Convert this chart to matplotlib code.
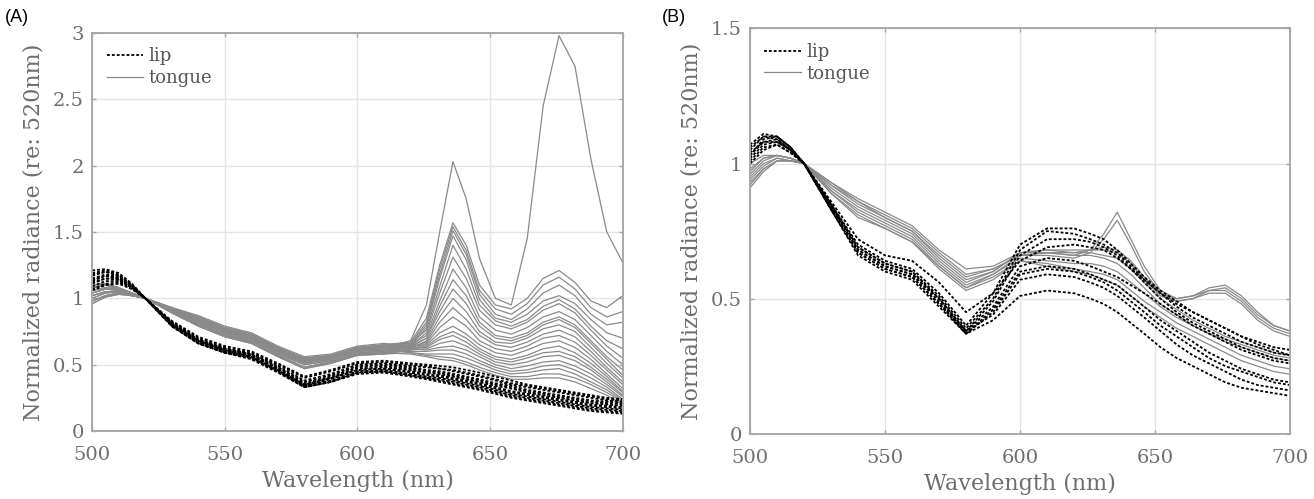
import matplotlib
matplotlib.use("Agg")
import matplotlib.pyplot as plt

# wavelength grid (nm) shared by all spectra
wl = [500, 505, 510, 515, 520, 530, 540, 550, 560, 570, 580, 590, 600, 610, 620,
      626, 631, 636, 641, 646, 652, 658, 664, 670, 676, 682, 688, 694, 700]

# ---- panel A: lip spectra (normalized at 520 nm)
lip_a = [
    [1.21, 1.22, 1.19, 1.11, 1.00, 0.83, 0.71, 0.64, 0.60, 0.51, 0.41, 0.46, 0.52, 0.53, 0.51, 0.50, 0.49, 0.48, 0.46, 0.44, 0.41, 0.38, 0.35, 0.33, 0.31, 0.29, 0.27, 0.25, 0.24],
    [1.19, 1.21, 1.18, 1.10, 1.00, 0.82, 0.70, 0.63, 0.59, 0.50, 0.40, 0.45, 0.51, 0.52, 0.50, 0.49, 0.47, 0.46, 0.44, 0.42, 0.39, 0.36, 0.34, 0.32, 0.30, 0.28, 0.26, 0.24, 0.23],
    [1.17, 1.20, 1.17, 1.10, 1.00, 0.82, 0.69, 0.62, 0.58, 0.49, 0.38, 0.43, 0.50, 0.51, 0.49, 0.48, 0.47, 0.45, 0.43, 0.41, 0.38, 0.35, 0.33, 0.31, 0.29, 0.27, 0.25, 0.23, 0.22],
    [1.15, 1.18, 1.16, 1.09, 1.00, 0.81, 0.69, 0.62, 0.58, 0.48, 0.37, 0.42, 0.49, 0.50, 0.48, 0.46, 0.45, 0.43, 0.41, 0.39, 0.36, 0.34, 0.31, 0.29, 0.27, 0.25, 0.23, 0.22, 0.21],
    [1.13, 1.17, 1.15, 1.09, 1.00, 0.81, 0.68, 0.61, 0.57, 0.48, 0.36, 0.41, 0.48, 0.49, 0.47, 0.45, 0.44, 0.42, 0.40, 0.38, 0.35, 0.33, 0.30, 0.28, 0.26, 0.24, 0.22, 0.21, 0.20],
    [1.11, 1.15, 1.14, 1.08, 1.00, 0.80, 0.68, 0.61, 0.57, 0.47, 0.35, 0.40, 0.47, 0.48, 0.46, 0.44, 0.43, 0.41, 0.39, 0.37, 0.34, 0.32, 0.29, 0.27, 0.25, 0.23, 0.21, 0.20, 0.19],
    [1.18, 1.20, 1.17, 1.10, 1.00, 0.81, 0.68, 0.61, 0.56, 0.46, 0.35, 0.40, 0.46, 0.47, 0.45, 0.43, 0.42, 0.40, 0.38, 0.36, 0.33, 0.30, 0.28, 0.26, 0.24, 0.22, 0.20, 0.19, 0.18],
    [1.14, 1.17, 1.15, 1.08, 1.00, 0.80, 0.67, 0.60, 0.56, 0.46, 0.34, 0.39, 0.46, 0.47, 0.44, 0.42, 0.41, 0.39, 0.37, 0.35, 0.32, 0.29, 0.27, 0.25, 0.23, 0.21, 0.19, 0.18, 0.17],
    [1.09, 1.13, 1.13, 1.08, 1.00, 0.80, 0.67, 0.60, 0.55, 0.45, 0.34, 0.38, 0.45, 0.46, 0.43, 0.41, 0.40, 0.38, 0.36, 0.34, 0.31, 0.28, 0.26, 0.24, 0.22, 0.20, 0.18, 0.17, 0.16],
    [1.12, 1.15, 1.14, 1.08, 1.00, 0.79, 0.66, 0.59, 0.55, 0.45, 0.33, 0.37, 0.44, 0.45, 0.42, 0.40, 0.39, 0.37, 0.35, 0.33, 0.30, 0.27, 0.25, 0.23, 0.21, 0.19, 0.17, 0.16, 0.15],
    [1.07, 1.11, 1.12, 1.07, 1.00, 0.79, 0.66, 0.59, 0.54, 0.44, 0.33, 0.37, 0.44, 0.45, 0.42, 0.40, 0.38, 0.36, 0.34, 0.32, 0.29, 0.26, 0.24, 0.22, 0.20, 0.18, 0.16, 0.15, 0.14],
    [1.06, 1.10, 1.11, 1.07, 1.00, 0.79, 0.66, 0.59, 0.55, 0.45, 0.33, 0.37, 0.43, 0.44, 0.41, 0.39, 0.37, 0.35, 0.33, 0.31, 0.28, 0.25, 0.23, 0.21, 0.19, 0.17, 0.15, 0.14, 0.13],
]

# ---- panel A: tongue spectra
tongue_a = [
    [1.02, 1.05, 1.05, 1.03, 1.00, 0.91, 0.83, 0.75, 0.70, 0.60, 0.52, 0.55, 0.61, 0.63, 0.68, 0.95, 1.50, 2.03, 1.75, 1.30, 1.00, 0.95, 1.45, 2.45, 2.98, 2.75, 2.05, 1.50, 1.27],
    [1.10, 1.11, 1.08, 1.04, 1.00, 0.93, 0.86, 0.78, 0.73, 0.63, 0.55, 0.57, 0.63, 0.65, 0.67, 0.85, 1.25, 1.57, 1.40, 1.10, 0.95, 0.92, 1.00, 1.15, 1.21, 1.12, 0.98, 0.93, 1.02],
    [1.08, 1.10, 1.07, 1.04, 1.00, 0.92, 0.85, 0.77, 0.72, 0.62, 0.54, 0.56, 0.62, 0.64, 0.66, 0.82, 1.22, 1.54, 1.36, 1.06, 0.92, 0.88, 0.96, 1.10, 1.16, 1.07, 0.93, 0.86, 0.90],
    [1.06, 1.08, 1.07, 1.03, 1.00, 0.92, 0.84, 0.76, 0.71, 0.61, 0.53, 0.56, 0.62, 0.63, 0.65, 0.80, 1.18, 1.51, 1.33, 1.03, 0.88, 0.84, 0.92, 1.04, 1.10, 1.02, 0.88, 0.80, 0.82],
    [1.04, 1.07, 1.06, 1.03, 1.00, 0.91, 0.83, 0.75, 0.70, 0.60, 0.52, 0.55, 0.61, 0.62, 0.64, 0.78, 1.15, 1.47, 1.29, 0.99, 0.85, 0.82, 0.88, 0.98, 1.02, 0.96, 0.84, 0.74, 0.70],
    [1.10, 1.11, 1.08, 1.04, 1.00, 0.93, 0.86, 0.78, 0.73, 0.63, 0.55, 0.57, 0.63, 0.65, 0.66, 0.76, 1.09, 1.40, 1.22, 0.95, 0.83, 0.79, 0.84, 0.94, 0.99, 0.92, 0.79, 0.68, 0.62],
    [1.02, 1.05, 1.05, 1.03, 1.00, 0.91, 0.82, 0.74, 0.69, 0.59, 0.51, 0.54, 0.60, 0.61, 0.64, 0.74, 1.04, 1.31, 1.15, 0.91, 0.80, 0.77, 0.82, 0.91, 0.96, 0.89, 0.76, 0.64, 0.55],
    [1.08, 1.10, 1.07, 1.04, 1.00, 0.92, 0.85, 0.77, 0.72, 0.62, 0.54, 0.56, 0.62, 0.64, 0.65, 0.72, 0.98, 1.22, 1.08, 0.86, 0.76, 0.73, 0.78, 0.86, 0.90, 0.84, 0.72, 0.60, 0.50],
    [1.00, 1.04, 1.05, 1.02, 1.00, 0.90, 0.81, 0.73, 0.68, 0.58, 0.50, 0.53, 0.59, 0.60, 0.63, 0.70, 0.94, 1.14, 1.02, 0.82, 0.72, 0.70, 0.74, 0.82, 0.86, 0.80, 0.68, 0.56, 0.46],
    [1.06, 1.08, 1.07, 1.03, 1.00, 0.92, 0.84, 0.76, 0.71, 0.61, 0.53, 0.56, 0.62, 0.63, 0.64, 0.70, 0.90, 1.07, 0.96, 0.79, 0.70, 0.68, 0.72, 0.80, 0.84, 0.78, 0.66, 0.54, 0.42],
    [0.98, 1.02, 1.04, 1.02, 1.00, 0.90, 0.80, 0.72, 0.67, 0.57, 0.48, 0.52, 0.58, 0.59, 0.62, 0.68, 0.86, 1.00, 0.90, 0.75, 0.67, 0.66, 0.70, 0.77, 0.80, 0.75, 0.63, 0.51, 0.40],
    [1.04, 1.07, 1.06, 1.03, 1.00, 0.91, 0.83, 0.75, 0.70, 0.60, 0.52, 0.55, 0.61, 0.62, 0.63, 0.67, 0.82, 0.93, 0.84, 0.72, 0.65, 0.63, 0.67, 0.73, 0.76, 0.71, 0.60, 0.48, 0.37],
    [0.96, 1.01, 1.03, 1.02, 1.00, 0.89, 0.79, 0.71, 0.66, 0.56, 0.47, 0.51, 0.57, 0.58, 0.61, 0.66, 0.78, 0.86, 0.79, 0.68, 0.62, 0.60, 0.64, 0.70, 0.72, 0.67, 0.57, 0.46, 0.35],
    [1.10, 1.11, 1.08, 1.04, 1.00, 0.93, 0.87, 0.79, 0.74, 0.64, 0.56, 0.58, 0.64, 0.66, 0.64, 0.65, 0.74, 0.79, 0.73, 0.65, 0.59, 0.57, 0.61, 0.66, 0.68, 0.63, 0.54, 0.43, 0.32],
    [1.02, 1.05, 1.05, 1.03, 1.00, 0.91, 0.82, 0.74, 0.69, 0.59, 0.51, 0.54, 0.60, 0.61, 0.62, 0.64, 0.71, 0.75, 0.70, 0.62, 0.56, 0.54, 0.57, 0.62, 0.64, 0.59, 0.51, 0.41, 0.30],
    [1.06, 1.08, 1.07, 1.03, 1.00, 0.92, 0.84, 0.76, 0.71, 0.61, 0.53, 0.56, 0.62, 0.63, 0.62, 0.63, 0.69, 0.72, 0.67, 0.60, 0.54, 0.52, 0.55, 0.59, 0.60, 0.56, 0.48, 0.39, 0.29],
    [0.98, 1.02, 1.04, 1.02, 1.00, 0.90, 0.80, 0.72, 0.67, 0.57, 0.48, 0.52, 0.58, 0.59, 0.61, 0.62, 0.66, 0.68, 0.64, 0.58, 0.52, 0.50, 0.52, 0.56, 0.57, 0.53, 0.46, 0.37, 0.27],
    [1.08, 1.10, 1.07, 1.04, 1.00, 0.92, 0.85, 0.77, 0.72, 0.62, 0.54, 0.56, 0.62, 0.64, 0.62, 0.61, 0.63, 0.64, 0.61, 0.56, 0.50, 0.47, 0.49, 0.52, 0.53, 0.49, 0.43, 0.35, 0.26],
    [1.00, 1.04, 1.05, 1.02, 1.00, 0.90, 0.81, 0.73, 0.68, 0.58, 0.50, 0.53, 0.59, 0.60, 0.60, 0.60, 0.61, 0.61, 0.58, 0.53, 0.48, 0.45, 0.46, 0.49, 0.50, 0.46, 0.40, 0.33, 0.24],
    [0.96, 1.01, 1.03, 1.02, 1.00, 0.89, 0.79, 0.71, 0.66, 0.56, 0.47, 0.51, 0.57, 0.58, 0.59, 0.58, 0.58, 0.58, 0.55, 0.51, 0.46, 0.43, 0.44, 0.46, 0.47, 0.43, 0.37, 0.31, 0.23],
    [1.04, 1.07, 1.06, 1.03, 1.00, 0.91, 0.83, 0.75, 0.70, 0.60, 0.52, 0.55, 0.61, 0.62, 0.59, 0.57, 0.56, 0.55, 0.52, 0.48, 0.44, 0.41, 0.41, 0.43, 0.43, 0.40, 0.35, 0.29, 0.22],
    [0.98, 1.02, 1.04, 1.02, 1.00, 0.90, 0.80, 0.72, 0.67, 0.57, 0.48, 0.52, 0.58, 0.59, 0.58, 0.56, 0.54, 0.53, 0.50, 0.46, 0.42, 0.39, 0.39, 0.40, 0.40, 0.37, 0.32, 0.27, 0.20],
]

# ---- panel B: lip spectra
lip_b = [
    [1.05, 1.10, 1.10, 1.06, 1.00, 0.85, 0.70, 0.64, 0.61, 0.52, 0.40, 0.52, 0.70, 0.76, 0.76, 0.74, 0.72, 0.68, 0.63, 0.58, 0.53, 0.49, 0.45, 0.42, 0.39, 0.36, 0.34, 0.32, 0.31],
    [1.03, 1.09, 1.10, 1.06, 1.00, 0.85, 0.69, 0.63, 0.60, 0.51, 0.39, 0.50, 0.68, 0.75, 0.74, 0.72, 0.70, 0.67, 0.62, 0.57, 0.52, 0.47, 0.43, 0.40, 0.37, 0.34, 0.32, 0.30, 0.29],
    [1.06, 1.10, 1.09, 1.05, 1.00, 0.84, 0.69, 0.63, 0.60, 0.50, 0.38, 0.49, 0.66, 0.72, 0.72, 0.71, 0.69, 0.66, 0.61, 0.56, 0.50, 0.45, 0.41, 0.38, 0.35, 0.32, 0.30, 0.28, 0.27],
    [1.02, 1.07, 1.08, 1.05, 1.00, 0.86, 0.72, 0.66, 0.64, 0.56, 0.45, 0.52, 0.64, 0.69, 0.70, 0.69, 0.68, 0.65, 0.61, 0.57, 0.52, 0.48, 0.45, 0.42, 0.39, 0.36, 0.33, 0.31, 0.29],
    [1.04, 1.08, 1.08, 1.05, 1.00, 0.84, 0.68, 0.62, 0.59, 0.50, 0.38, 0.47, 0.62, 0.65, 0.64, 0.62, 0.60, 0.58, 0.55, 0.52, 0.48, 0.44, 0.40, 0.37, 0.34, 0.31, 0.29, 0.27, 0.26],
    [1.01, 1.06, 1.07, 1.04, 1.00, 0.84, 0.68, 0.62, 0.59, 0.49, 0.37, 0.46, 0.60, 0.62, 0.61, 0.59, 0.57, 0.55, 0.51, 0.47, 0.42, 0.38, 0.34, 0.30, 0.27, 0.24, 0.22, 0.20, 0.19],
    [1.07, 1.11, 1.10, 1.06, 1.00, 0.83, 0.67, 0.61, 0.58, 0.48, 0.37, 0.45, 0.59, 0.61, 0.60, 0.58, 0.56, 0.53, 0.49, 0.45, 0.40, 0.36, 0.32, 0.28, 0.25, 0.23, 0.21, 0.19, 0.18],
    [1.03, 1.08, 1.09, 1.05, 1.00, 0.83, 0.67, 0.61, 0.58, 0.48, 0.38, 0.44, 0.57, 0.59, 0.58, 0.56, 0.54, 0.51, 0.47, 0.43, 0.38, 0.33, 0.29, 0.26, 0.23, 0.20, 0.18, 0.17, 0.16],
    [1.00, 1.05, 1.07, 1.04, 1.00, 0.83, 0.66, 0.60, 0.57, 0.47, 0.37, 0.42, 0.51, 0.53, 0.52, 0.50, 0.48, 0.45, 0.41, 0.37, 0.32, 0.28, 0.25, 0.22, 0.19, 0.17, 0.16, 0.15, 0.14],
]

# ---- panel B: tongue spectra
tongue_b = [
    [0.98, 1.02, 1.03, 1.02, 1.00, 0.93, 0.87, 0.82, 0.77, 0.68, 0.61, 0.62, 0.67, 0.67, 0.66, 0.68, 0.74, 0.82, 0.72, 0.62, 0.53, 0.50, 0.51, 0.54, 0.55, 0.51, 0.45, 0.40, 0.38],
    [0.96, 1.01, 1.03, 1.02, 1.00, 0.92, 0.86, 0.81, 0.76, 0.67, 0.59, 0.61, 0.66, 0.66, 0.65, 0.67, 0.72, 0.79, 0.70, 0.60, 0.52, 0.49, 0.50, 0.53, 0.54, 0.50, 0.44, 0.40, 0.38],
    [0.94, 0.99, 1.02, 1.01, 1.00, 0.92, 0.85, 0.80, 0.75, 0.66, 0.58, 0.61, 0.66, 0.67, 0.67, 0.68, 0.69, 0.68, 0.64, 0.58, 0.52, 0.50, 0.51, 0.53, 0.53, 0.49, 0.43, 0.39, 0.37],
    [1.00, 1.03, 1.03, 1.02, 1.00, 0.93, 0.86, 0.80, 0.75, 0.65, 0.57, 0.60, 0.67, 0.68, 0.68, 0.68, 0.68, 0.67, 0.63, 0.57, 0.51, 0.49, 0.50, 0.52, 0.52, 0.48, 0.42, 0.38, 0.36],
    [0.97, 1.02, 1.03, 1.02, 1.00, 0.91, 0.84, 0.79, 0.74, 0.64, 0.56, 0.60, 0.67, 0.68, 0.67, 0.67, 0.66, 0.65, 0.61, 0.56, 0.50, 0.46, 0.42, 0.39, 0.36, 0.34, 0.32, 0.30, 0.29],
    [0.93, 0.98, 1.01, 1.01, 1.00, 0.90, 0.83, 0.78, 0.73, 0.63, 0.55, 0.59, 0.66, 0.67, 0.66, 0.66, 0.65, 0.63, 0.59, 0.54, 0.48, 0.44, 0.40, 0.37, 0.35, 0.33, 0.31, 0.29, 0.28],
    [0.95, 1.00, 1.02, 1.01, 1.00, 0.90, 0.82, 0.77, 0.72, 0.62, 0.54, 0.59, 0.65, 0.64, 0.63, 0.63, 0.62, 0.60, 0.56, 0.52, 0.47, 0.43, 0.40, 0.37, 0.34, 0.32, 0.30, 0.28, 0.27],
    [0.91, 0.97, 1.01, 1.01, 1.00, 0.89, 0.81, 0.76, 0.71, 0.62, 0.54, 0.58, 0.64, 0.63, 0.61, 0.60, 0.59, 0.57, 0.53, 0.49, 0.45, 0.41, 0.38, 0.35, 0.32, 0.29, 0.27, 0.25, 0.24],
    [0.92, 0.98, 1.01, 1.01, 1.00, 0.89, 0.80, 0.76, 0.71, 0.61, 0.53, 0.57, 0.64, 0.62, 0.60, 0.59, 0.57, 0.55, 0.51, 0.47, 0.43, 0.39, 0.36, 0.33, 0.30, 0.27, 0.25, 0.23, 0.22],
]

x_ticks = [500, 550, 600, 650, 700]
y_ticks_a = [0, 0.5, 1, 1.5, 2, 2.5, 3]
y_ticks_b = [0, 0.5, 1, 1.5]

serif = "DejaVu Serif"
txt_grey = "#6e6e6e"
frame_grey = "#a8a8a8"
lip_style = dict(color="black", lw=1.3, linestyle=(0, (1.6, 1.1)))
tongue_style = dict(color="#8a8a8a", lw=0.9, linestyle="-")

fig = plt.figure(figsize=(13.14, 4.99), dpi=100)
ax_a = fig.add_axes([0.0702, 0.1363, 0.4037, 0.7976])
ax_b = fig.add_axes([0.5708, 0.1309, 0.4110, 0.8120])


def style_axes(ax, yticks, ylim):
    ax.set_xlim(500, 700)
    ax.set_ylim(*ylim)
    ax.set_xticks(x_ticks)
    ax.set_yticks(yticks)
    ax.set_xticklabels([str(t) for t in x_ticks])
    ax.set_yticklabels([("%g" % t) for t in yticks])
    ax.grid(True, color="#e4e4e4", lw=1.0)
    ax.set_axisbelow(True)
    for s in ax.spines.values():
        s.set_color(frame_grey)
        s.set_linewidth(1.4)
    ax.tick_params(direction="in", length=3, width=1, color=frame_grey,
                   top=True, right=True, labelsize=14, labelcolor=txt_grey)
    ax.tick_params(axis="y", pad=6)
    ax.tick_params(axis="x", pad=11)
    for lab in ax.get_xticklabels() + ax.get_yticklabels():
        lab.set_fontfamily(serif)
    ax.set_xlabel("Wavelength (nm)", fontsize=16, family=serif, color=txt_grey, labelpad=4)
    ax.set_ylabel("Normalized radiance (re: 520nm)", fontsize=16, family=serif,
                  color=txt_grey, labelpad=6)


for ax, lips, tongues in [(ax_a, lip_a, tongue_a), (ax_b, lip_b, tongue_b)]:
    for i, t in enumerate(tongues):
        ax.plot(wl, t, label="tongue" if i == 0 else None, **tongue_style)
    for i, l in enumerate(lips):
        ax.plot(wl, l, label="lip" if i == 0 else None, **lip_style)
    h, lb = ax.get_legend_handles_labels()
    leg = ax.legend([h[1], h[0]], [lb[1], lb[0]], loc="upper left", frameon=False,
                    prop={"family": serif, "size": 13}, handlelength=2.0,
                    handletextpad=0.3, labelspacing=0.2, borderaxespad=0.4)
    for t in leg.get_texts():
        t.set_color("#555555")

style_axes(ax_a, y_ticks_a, (0, 3))
style_axes(ax_b, y_ticks_b, (0, 1.5))

fig.text(0.004, 0.965, "(A)", fontsize=13, family="Liberation Sans", va="center")
fig.text(0.504, 0.965, "(B)", fontsize=13, family="Liberation Sans", va="center")

fig.savefig("out.png", dpi=100)
